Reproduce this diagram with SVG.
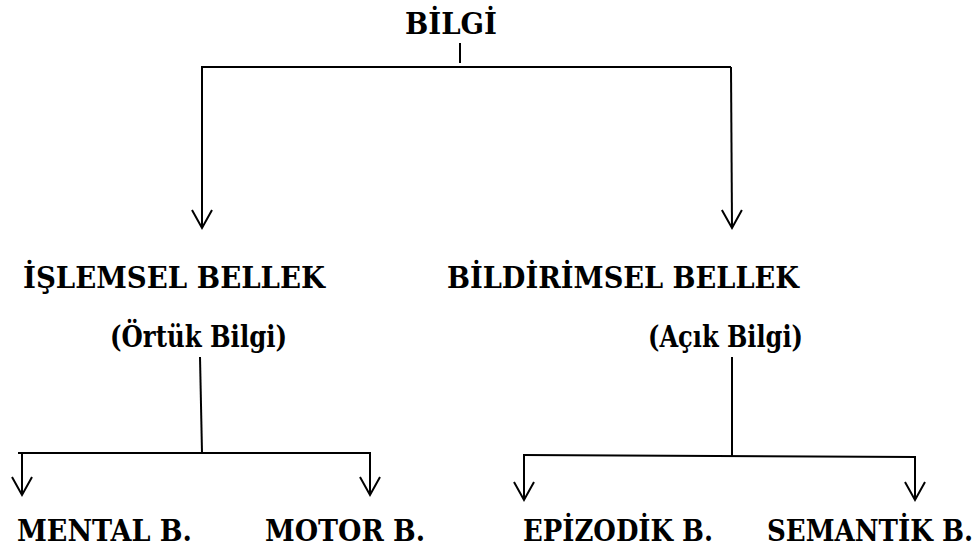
<svg xmlns="http://www.w3.org/2000/svg" width="980" height="550" viewBox="0 0 980 550">
<style>
text{font-family:'DejaVu Serif Condensed','DejaVu Serif','Liberation Serif',serif;font-stretch:condensed;font-weight:700;font-size:29px;fill:#000}
.c{fill:none;stroke:#000;stroke-width:2}
.a{marker-end:url(#arr)}
</style>
<defs>
<marker id="arr" markerUnits="userSpaceOnUse" viewBox="-20 -20 40 40" markerWidth="40" markerHeight="40" refX="0" refY="0" orient="auto" overflow="visible">
<path d="M-18,-10 L0,0 L-18,10" fill="none" stroke="#000" stroke-width="2"/>
</marker>
</defs>
<rect width="980" height="550" fill="#fff"/>
<g id="connectors">
<path class="c" d="M460 43 V63"/>
<path class="c" d="M201 67 H731"/>
<path class="c a" d="M202 67 V228"/>
<path class="c a" d="M731 67 L732 228"/>
<path class="c" d="M200 357 L202 453"/>
<path class="c" d="M18 453 H371"/>
<path class="c a" d="M22 453 V495"/>
<path class="c a" d="M370 453 V495"/>
<path class="c" d="M732 357 V456"/>
<path class="c" d="M523 455 L916 457"/>
<path class="c a" d="M524 456 V500"/>
<path class="c a" d="M915 457 V500"/>
</g>
<g id="bilgi"><text x="405" y="34" textLength="92" lengthAdjust="spacingAndGlyphs">BİLGİ</text></g>
<g id="islemsel"><text x="23" y="288" textLength="302" lengthAdjust="spacingAndGlyphs">İŞLEMSEL BELLEK</text></g>
<g id="ortuk"><text x="110" y="347" textLength="177" lengthAdjust="spacingAndGlyphs">(Örtük Bilgi)</text></g>
<g id="bildirimsel"><text x="447" y="288" textLength="352" lengthAdjust="spacingAndGlyphs">BİLDİRİMSEL BELLEK</text></g>
<g id="acik"><text x="648" y="347" textLength="155" lengthAdjust="spacingAndGlyphs">(Açık Bilgi)</text></g>
<g id="mental"><text x="17" y="541" textLength="175" lengthAdjust="spacingAndGlyphs">MENTAL B.</text></g>
<g id="motor"><text x="265" y="541" textLength="160" lengthAdjust="spacingAndGlyphs">MOTOR B.</text></g>
<g id="epizodik"><text x="523" y="541" textLength="190" lengthAdjust="spacingAndGlyphs">EPİZODİK B.</text></g>
<g id="semantik"><text x="767" y="541" textLength="206" lengthAdjust="spacingAndGlyphs">SEMANTİK B.</text></g>
</svg>
